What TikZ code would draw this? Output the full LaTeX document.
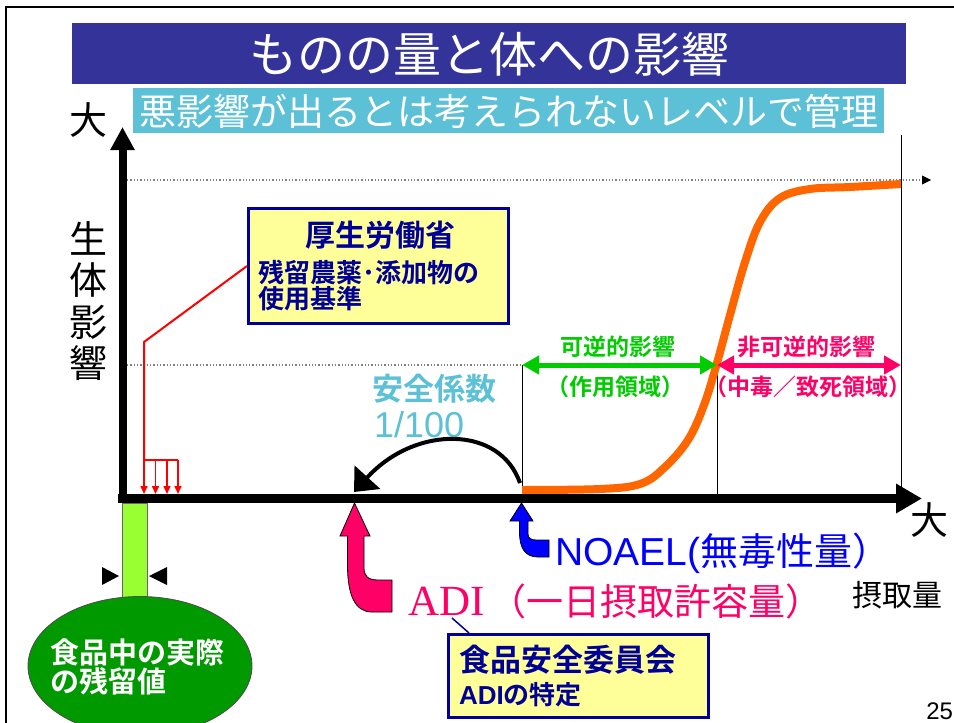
\documentclass[tikz,border=0pt]{standalone}
\usepackage{fontspec}
\setmainfont{Noto Sans CJK JP}[BoldFont={Noto Sans CJK JP Bold}]
\newfontfamily\lsans{Liberation Sans}
\newfontfamily\lserif{Liberation Serif}
\usetikzlibrary{arrows.meta,shapes.geometric}
\definecolor{titleblue}{RGB}{51,51,153}
\definecolor{subcyan}{RGB}{92,192,214}
\definecolor{curveorange}{RGB}{255,102,0}
\definecolor{revgreen}{RGB}{0,204,0}
\definecolor{hotpink}{RGB}{255,0,102}
\definecolor{boxyellow}{RGB}{255,255,153}
\definecolor{boxblue}{RGB}{0,0,153}
\definecolor{limegreen}{RGB}{153,255,51}
\definecolor{darkgreen}{RGB}{0,153,0}
\newcommand\fsz[1]{\fontsize{#1}{#1}\selectfont}
\begin{document}
\begin{tikzpicture}[x=1pt,y=-1pt,
  txt/.style={inner sep=0pt, outer sep=0pt},
  infobox/.style={draw=boxblue, line width=3pt, fill=boxyellow, inner sep=0pt, anchor=north west},
  guide/.style={gray, dotted, line width=1.3pt},
  vline/.style={black, line width=1pt},
  bigtip/.style={-{Triangle[length=#1pt,width=#1pt]}},
  dbl/.style={line width=5pt, {Triangle[length=17pt,width=18pt]}-{Triangle[length=17pt,width=18pt]}},
  redarr/.style={red, line width=1.5pt, -{Triangle[length=8pt,width=7pt]}}
]
\useasboundingbox (0,0) rectangle (954,723);

% frame
\draw[line width=2.5pt] (6,723) -- (6,7) -- (954,7);

% title bands
\fill[titleblue] (72,23) rectangle (906,84);
\node[txt, text=white] (titletext) at (489,54) {\fsz{48}ものの量と体への影響};
\fill[subcyan] (133,88) rectangle (884,133);
\node[txt, text=white] (subtitle) at (509,111) {\fsz{37}悪影響が出るとは考えられないレベルで管理};

% guides
\coordinate (g1s) at (127,180);
\coordinate (g1e) at (922,180);
\draw[guide] (g1s) -- (g1e);
\fill (922,175.5) -- (931,180) -- (922,184.5) -- cycle;
\coordinate (g2s) at (127,365);
\coordinate (g2e) at (522,365);
\draw[guide] (g2s) -- (g2e);

% vertical lines
\draw[vline] (522,365) -- (522,497);
\draw[vline] (717,363) -- (717,497);
\draw[vline] (901,135) -- (901,497);

% orange curve
\draw[curveorange, line width=8pt] plot[smooth, tension=0.6] coordinates {(522,490) (600,489) (640,484) (664,468) (688,440) (704,405) (717,363) (730,315) (745,262) (760,222) (780,198) (810,189) (850,187) (901,184)};

% axes
\draw[line width=8pt, bigtip=23] (122.5,503) -- (122.5,127);
\draw[line width=9pt, -{Triangle[length=26pt,width=28pt]}] (118,498.5) -- (922,498.5);
\node[txt] (ymax) at (88,120) {\fsz{38}大};
\node[txt] (xmax) at (929,520) {\fsz{38}大};
\node[txt, align=center, font=\fontsize{38}{41.5}\selectfont] (ylabel) at (88,301) {生\\体\\影\\響};
\node[txt, anchor=west] (intake) at (852,595) {\fsz{30}摂取量};
\node[txt, anchor=east] (pageno) at (953,711) {\lsans\fsz{24}25};

% reversible / irreversible
\draw[revgreen, dbl] (522,365) -- (717,365);
\draw[hotpink, dbl] (717,365) -- (901,365);
\node[txt, text=revgreen] (rev) at (618,347) {\fsz{23}\bfseries 可逆的影響};
\node[txt, text=revgreen] (revsub) at (615,387) {\fsz{23}\bfseries （作用領域）};
\node[txt, text=hotpink] (irr) at (806,347) {\fsz{23}\bfseries 非可逆的影響};
\node[txt, text=hotpink] (irrsub) at (808,387) {\fsz{23}\bfseries （中毒／致死領域）};

% safety factor
\node[txt, text=subcyan, anchor=west] (sf) at (372,389) {\fsz{31}\bfseries 安全係数};
\node[txt, text=subcyan, anchor=west] (sfval) at (374,425) {\lsans\fsz{36}1/100};
\coordinate (sfstart) at (520,483);
\coordinate (sfend) at (354,492);
\draw[line width=4pt, -{Triangle[length=20pt,width=34pt]}] (sfstart) .. controls (500,425) and (415,425) .. (sfend);

% MHLW box
\node[infobox, minimum width=260pt, minimum height=115pt] (box1) at (247,207) {};
\node[txt, text=boxblue] (mhlw) at (380,235) {\fsz{30}\bfseries 厚生労働省};
\node[txt, text=boxblue, anchor=west] (zanryu) at (258,272) {\fsz{26}\bfseries 残留農薬･添加物の};
\node[txt, text=boxblue, anchor=west] (shiyou) at (258,299) {\fsz{26}\bfseries 使用基準};
\coordinate (rbend) at (144,342);
\coordinate (rfork) at (144,460);
\coordinate (rforkend) at (178,460);
\draw[red, line width=2pt] (box1.west) -- (rbend) -- (rfork);
\draw[red, line width=1.5pt] (rfork) -- (rforkend);
\foreach \xx in {144,155.5,167,178} {
  \draw[redarr] (\xx,460) -- (\xx,494);
}

% residue stem and ellipse
\node[draw=black!60, line width=0.8pt, fill=limegreen, minimum width=25pt, minimum height=95pt, inner sep=0pt, anchor=north west] (stem) at (122,503) {};
\fill (102,567) -- (119,576) -- (102,585) -- cycle;
\fill (167,567) -- (149,576) -- (167,585) -- cycle;
\node[ellipse, draw=black!70, line width=0.8pt, fill=darkgreen, minimum width=224pt, minimum height=139pt, inner sep=0pt] (resid) at (140,666) {};
\node[txt, text=white, anchor=west] (resid1) at (50,652) {\fsz{29}\bfseries 食品中の実際};
\node[txt, text=white, anchor=west] (resid2) at (50,681) {\fsz{29}\bfseries の残留値};

% ADI arrow (pink)
\filldraw[fill=hotpink, draw=black, line width=0.8pt] (354.5,503) -- (370,536) -- (364,536) -- (364,568) .. controls (364,576) and (368,580) .. (378,580) -- (392,580) -- (392,612) -- (372,612) .. controls (355,612) and (347.5,595) .. (347.5,565) -- (347.5,536) -- (340,536) -- cycle;
\node[txt, text=hotpink, anchor=base west] (adi) at (408,615) {\lserif\fsz{43}ADI\hspace{5pt}\rmfamily\fsz{37}（一日摂取許容量）};

% NOAEL arrow (blue)
\filldraw[fill=blue, draw=black, line width=0.8pt] (521.5,503) -- (533,521) -- (528,521) -- (528,534) .. controls (528,538) and (531,540) .. (536,540) -- (549,540) -- (549,557) -- (538,557) .. controls (525,557) and (519.5,548) .. (519.5,532) -- (519.5,521) -- (510,521) -- cycle;
\node[txt, text=blue, anchor=base west] (noael) at (555,565) {\lsans\fsz{39}NOAEL(\rmfamily\fsz{38}無毒性量）};

% FSC box
\node[infobox, minimum width=260pt, minimum height=83pt] (box2) at (447,633) {};
\node[txt, text=boxblue, anchor=west] (fsc) at (459,660) {\fsz{31}\bfseries 食品安全委員会};
\node[txt, text=boxblue, anchor=west] (fscsub) at (459,695) {\lsans\fsz{26}\bfseries ADI\rmfamily\fsz{26}\bfseries の特定};
\coordinate (adilink) at (452,618);
\draw[boxblue, line width=1.5pt] (adilink) -- ([xshift=22pt]box2.north west);
\end{tikzpicture}
\end{document}
